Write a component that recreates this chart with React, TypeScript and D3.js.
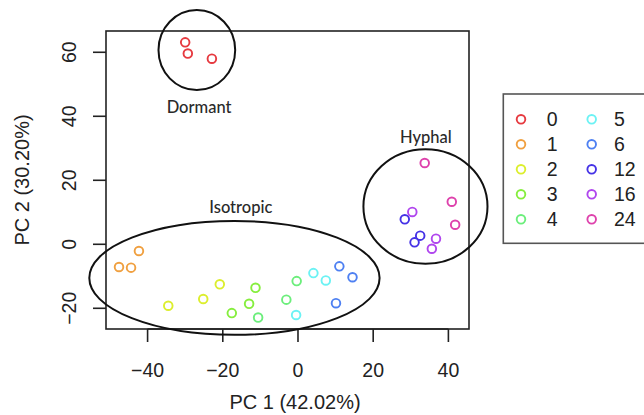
import React from "react";
import * as d3 from "d3";

// ---- data ----
const timepoints = ["0", "1", "2", "3", "4", "5", "6", "12", "16", "24"];
const colors = ["#E63A40", "#F0A040", "#DCEE2E", "#86EE3E", "#6CEE7C", "#6CF2F4", "#4E80F2", "#4532E6", "#B046EE", "#DE42AC"];

const pointGroup = [0, 0, 0, 1, 1, 1, 2, 2, 2, 3, 3, 3, 4, 4, 4, 5, 5, 5, 6, 6, 6, 7, 7, 7, 8, 8, 8, 9, 9, 9];
const pc1 = [-30.0, -29.3, -22.9, -42.3, -47.6, -44.4, -34.5, -25.2, -20.8, -17.6, -13.0, -11.3, -10.6, -3.1, -0.35, 4.1, 7.4, -0.5, 11.0, 14.5, 10.1, 28.4, 32.5, 31.0, 30.4, 36.7, 35.6, 33.7, 40.9, 41.8];
const pc2 = [63.1, 59.6, 58.0, -2.1, -7.1, -7.3, -19.2, -17.1, -12.5, -21.5, -18.6, -13.6, -22.9, -17.3, -11.5, -9.0, -11.3, -22.1, -6.9, -10.3, -18.4, 7.8, 2.7, 0.6, 10.1, 1.75, -1.4, 25.4, 13.3, 6.1];

const clusterNames = ["Dormant", "Isotropic", "Hyphal"];
const clusterCx = [-26.9, -16.9, 33.9];
const clusterCy = [60.7, -10.5, 11.8];
const clusterRx = [10.2, 38.6, 16.5];
const clusterRy = [12.5, 17.8, 17.9];
const clusterLabelX = [-26.3, -15.2, 34.0];
const clusterLabelY = [42.8, 11.4, 33.4];

const xTicks = [-40, -20, 0, 20, 40];
const yTicks = [-20, 0, 20, 40, 60];
const xTitle = "PC 1 (42.02%)";
const yTitle = "PC 2 (30.20%)";

export default function App() {
  const W = 644, H = 415;
  const left = 106, right = 469, top = 31, bottom = 329;
  const x = d3.scaleLinear().domain([-51.06, 45.48]).range([left, right]);
  const y = d3.scaleLinear().domain([66.65, -26.47]).range([top, bottom]);
  const font = "'Liberation Sans', Arial, Helvetica, sans-serif";
  const labelFont = "Lato, 'Open Sans', sans-serif";
  const kx = Math.abs(x(1) - x(0));
  const ky = Math.abs(y(1) - y(0));

  const legX0 = 503.3, legY0 = 94, legH = 149.3;
  const rowY = d3.range(5).map((i) => 119.3 + i * 25);

  return (
    <svg width={W} height={H} style={{ position: "absolute", left: 0, top: 0, background: "#fff" }}>
      {/* plot box */}
      <rect x={left} y={top} width={right - left} height={bottom - top} fill="none" stroke="#222" strokeWidth={1.6} />
      {/* x axis */}
      <line x1={x(xTicks[0])} x2={x(xTicks[xTicks.length - 1])} y1={bottom} y2={bottom} stroke="#222" strokeWidth={1.6} />
      {xTicks.map((t) => (
        <g key={"xt" + t}>
          <line x1={x(t)} x2={x(t)} y1={bottom} y2={bottom + 13} stroke="#222" strokeWidth={1.6} />
          <text x={x(t)} y={376.5} textAnchor="middle" fontFamily={font} fontSize={19.5} fill="#222">
            {t < 0 ? "\u2212" + Math.abs(t) : t}
          </text>
        </g>
      ))}
      {/* y axis */}
      {yTicks.map((t) => (
        <g key={"yt" + t}>
          <line x1={left - 13} x2={left} y1={y(t)} y2={y(t)} stroke="#222" strokeWidth={1.6} />
          <text transform={`translate(75.5,${y(t)}) rotate(-90)`} textAnchor="middle" fontFamily={font} fontSize={19.5} fill="#222">
            {t < 0 ? "\u2212" + Math.abs(t) : t}
          </text>
        </g>
      ))}
      <text x={295} y={409} textAnchor="middle" fontFamily={font} fontSize={20} fill="#222">{xTitle}</text>
      <text transform={`translate(29,180) rotate(-90)`} textAnchor="middle" fontFamily={font} fontSize={20} fill="#222">{yTitle}</text>

      {/* points */}
      {pc1.map((v, i) => (
        <circle key={"p" + i} cx={x(v)} cy={y(pc2[i])} r={4.3} fill="none" stroke={colors[pointGroup[i]]} strokeWidth={1.9} />
      ))}

      {/* cluster ellipses */}
      {clusterNames.map((n, i) => (
        <g key={n}>
          <ellipse cx={x(clusterCx[i])} cy={y(clusterCy[i])} rx={clusterRx[i] * kx} ry={clusterRy[i] * ky} fill="none" stroke="#111" strokeWidth={2} />
          <text x={x(clusterLabelX[i])} y={y(clusterLabelY[i]) + 5.5} textAnchor="middle" fontFamily={labelFont} fontSize={16.5} fontWeight={500} fill="#2a2a2a">{n}</text>
        </g>
      ))}

      {/* legend */}
      <rect x={legX0} y={legY0} width={160} height={legH} fill="#fff" stroke="#555" strokeWidth={1.6} />
      {timepoints.map((tp, i) => {
        const col = i < 5 ? 0 : 1;
        const r = i % 5;
        const sx = col === 0 ? 521 : 591.7;
        const tx = col === 0 ? 546.7 : 614;
        return (
          <g key={"lg" + tp}>
            <circle cx={sx} cy={rowY[r]} r={4.3} fill="none" stroke={colors[i]} strokeWidth={1.9} />
            <text x={tx} y={rowY[r] + 7} fontFamily={font} fontSize={19.5} fill="#222">{tp}</text>
          </g>
        );
      })}
    </svg>
  );
}
